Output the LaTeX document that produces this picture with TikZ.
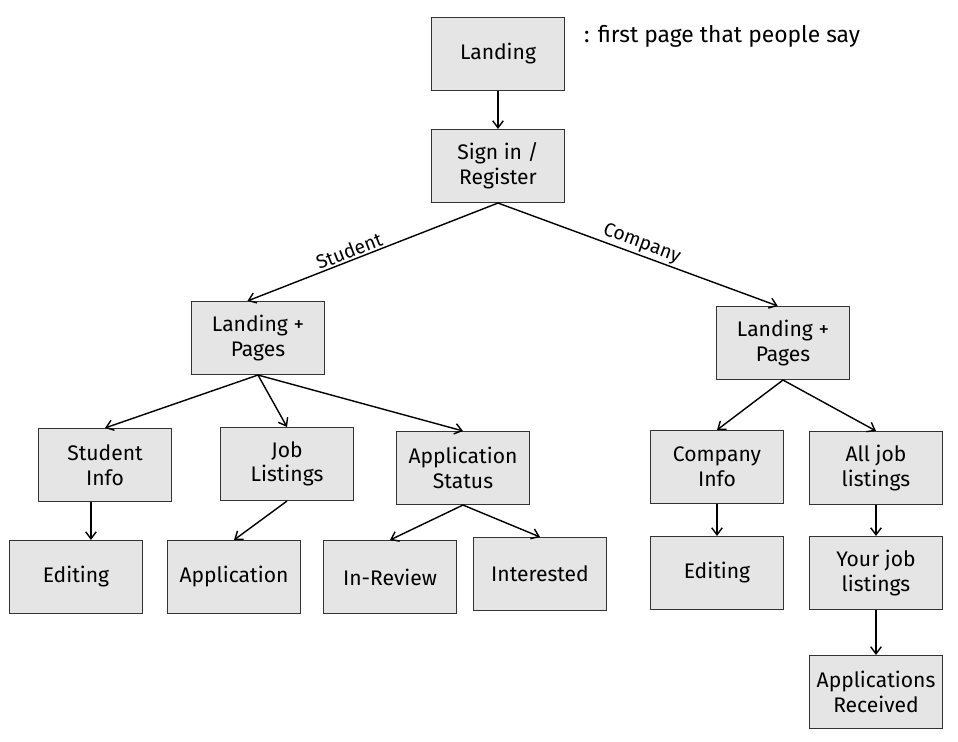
\documentclass[tikz,border=0pt]{standalone}
\usepackage{fontspec}
\setmainfont{Fira Sans}
\usetikzlibrary{arrows.meta}

\begin{document}
\begin{tikzpicture}[x=0.2mm, y=-0.2mm,
  page/.style={draw=black!80, fill=black!10, line width=0.6pt, minimum width=26.6mm, minimum height=14.6mm, inner sep=2pt, align=center, font=\fontsize{12}{14}\selectfont},
  arrow/.style={-{Straight Barb[length=4pt,width=6pt]}, line width=0.8pt},
  branch/.style={sloped, above, inner sep=1pt, font=\fontsize{11}{13}\selectfont}]
  \useasboundingbox (0,0) rectangle (958,741);
  % top
  \node[page] (land) at (498,54) {Landing};
  \node[anchor=west, font=\fontsize{13}{15}\selectfont] (note) at (578,36) {: first page that people say};
  \node[page] (sign) at (498,166) {Sign in /\\Register};
  % student side
  \node[page] (lps) at (258,338) {Landing +\\Pages};
  \node[page] (sinfo) at (105,465) {Student\\Info};
  \node[page] (jobs) at (287,464) {Job\\Listings};
  \node[page] (status) at (463,468) {Application\\Status};
  \node[page] (eds) at (76,577) {Editing};
  \node[page] (appl) at (234,577) {Application};
  \node[page] (review) at (390,577) {In-Review};
  \node[page] (inter) at (540,574) {Interested};
  % company side
  \node[page] (lpc) at (783,343) {Landing +\\Pages};
  \node[page] (cinfo) at (717,467) {Company\\Info};
  \node[page] (alljobs) at (876,468) {All job\\listings};
  \node[page] (edc) at (717,573) {Editing};
  \node[page] (yours) at (876,573) {Your job\\listings};
  \node[page] (recv) at (876,692) {Applications\\Received};

  \draw[arrow] (sign.south) -- node[branch, pos=0.58] (stud) {Student} ([xshift=-6pt]lps.north);
  \draw[arrow] (sign.south) -- node[branch, pos=0.5] (comp) {Company} ([xshift=-3pt]lpc.north);
  \foreach \a/\b in {land/sign, lps/sinfo, lps/jobs, lps/status, jobs/appl, status/review, status/inter, lpc/cinfo, lpc/alljobs, cinfo/edc, alljobs/yours, yours/recv}{
    \draw[arrow] (\a.south) -- (\b.north);
  }
  \draw[arrow] ([xshift=-8pt]sinfo.south) -- ([xshift=-8pt]sinfo.south |- eds.north);
\end{tikzpicture}
\end{document}
